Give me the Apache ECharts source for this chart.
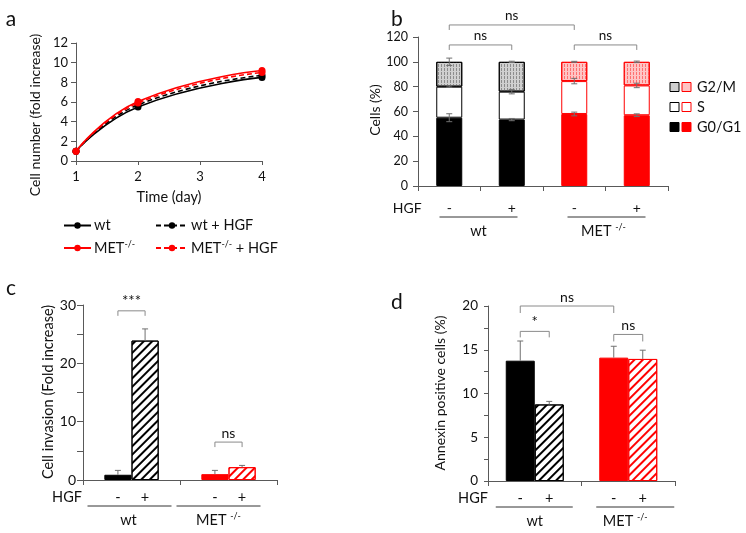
<!DOCTYPE html>
<html><head><meta charset="utf-8">
<script src="https://cdn.jsdelivr.net/npm/echarts@6/dist/echarts.min.js"></script>
<style>html,body{margin:0;padding:0;background:#fff}#c{width:746px;height:533px}</style>
</head><body><div id="c"></div>
<script>
// ---------- Panel a: cell number (fold increase) ----------
const daysA = [1, 2, 4];
const wtA = [1, 5.5, 8.5];
const wtHgfA = [1, 5.7, 8.7];
const metA = [1, 6.05, 9.2];
const metHgfA = [1, 5.9, 9.0];
const yTicksA = [0, 2, 4, 6, 8, 10, 12];

// ---------- Panel b: cell cycle (%) ----------
const catsB = ['wt-', 'wt+', 'MET-', 'MET+'];
const g0g1B = [55, 53.5, 58, 57];
const sB = [25, 22.5, 26.5, 24];
const g2mB = [20, 24, 15.5, 19];
const g0g1ErrB = [3.2, 0.9, 1.5, 1.1];
const sErrB = [0.6, 1.8, 2.2, 1.8];
const g2mErrB = [3.0, 0.5, 0.4, 0.6];
const hgfB = ['-', '+', '-', '+'];

// ---------- Panel c: invasion ----------
const groupsCD = ['wt', 'MET -/-'];
const invNo = [0.9, 1.0];
const invNoErr = [0.75, 0.65];
const invHgf = [23.9, 2.2];
const invHgfErr = [2.0, 0.3];

// ---------- Panel d: annexin ----------
const annNo = [13.75, 14.1];
const annNoErr = [2.25, 1.3];
const annHgf = [8.75, 13.95];
const annHgfErr = [0.35, 1.0];

const FONT = 'Lato';
const AX = '#595959';
const TXT = '#111';
const ERR = '#707070';
const BR = '#8a8a8a';
const RED = '#ff0000';

const chart = echarts.init(document.getElementById('c'), null, {renderer: 'canvas'});

const hatch = (c) => ({symbol: 'rect', symbolSize: 1, dashArrayX: [1, 0], dashArrayY: [1.6, 3.4], rotation: -Math.PI / 4, color: c});
const stip = (c) => ({symbol: 'rect', symbolSize: 1, dashArrayX: [1, 1.5], dashArrayY: [3, 1], rotation: 0, color: c});

function yAx(gi, max, interval, fs, margin, tick, labelEvery) {
  return {
    gridIndex: gi, type: 'value', min: 0, max: max, interval: interval,
    axisLine: {show: true, lineStyle: {color: AX, width: 1}},
    axisTick: {show: true, length: tick, lineStyle: {color: AX}},
    splitLine: {show: false},
    axisLabel: {color: TXT, fontSize: fs, fontFamily: FONT, margin: margin,
      formatter: (v) => (labelEvery ? (Math.abs(v / labelEvery - Math.round(v / labelEvery)) < 1e-6 ? String(v) : '') : String(v))}
  };
}
function catAx(gi, data) {
  return {
    gridIndex: gi, type: 'category', data: data,
    axisLine: {show: true, lineStyle: {color: AX, width: 1}},
    axisTick: {show: true, length: 5, lineStyle: {color: AX}},
    axisLabel: {show: false}, splitLine: {show: false}
  };
}

function errSeries(xi, data, barPct, upOnly) {
  return {
    type: 'custom', xAxisIndex: xi, yAxisIndex: xi, z: 10, silent: true,
    data: data,
    renderItem: (params, api) => {
      const x = api.value(0), y = api.value(1), e = api.value(2), side = api.value(3);
      const band = api.size([1, 0])[0];
      const off = side * band * barPct / 2;
      const t = api.coord([x, y + e]);
      const b = api.coord([x, upOnly ? y : y - e]);
      const cx = t[0] + off;
      const cap = 3;
      const st = {stroke: ERR, lineWidth: 1};
      const ch = [
        {type: 'line', shape: {x1: cx, y1: t[1], x2: cx, y2: b[1]}, style: st},
        {type: 'line', shape: {x1: cx - cap, y1: t[1], x2: cx + cap, y2: t[1]}, style: st}
      ];
      if (!upOnly) ch.push({type: 'line', shape: {x1: cx - cap, y1: b[1], x2: cx + cap, y2: b[1]}, style: st});
      return {type: 'group', children: ch};
    }
  };
}

// error data panel b: cumulative tops
const errB = [];
catsB.forEach((c, i) => {
  errB.push([i, g0g1B[i], g0g1ErrB[i], 0]);
  errB.push([i, g0g1B[i] + sB[i], sErrB[i], 0]);
  errB.push([i, g0g1B[i] + sB[i] + g2mB[i], g2mErrB[i], 0]);
});
const errC = [];
groupsCD.forEach((g, i) => { errC.push([i, invNo[i], invNoErr[i], -1]); errC.push([i, invHgf[i], invHgfErr[i], 1]); });
const errD = [];
groupsCD.forEach((g, i) => { errD.push([i, annNo[i], annNoErr[i], -1]); errD.push([i, annHgf[i], annHgfErr[i], 1]); });

const isWt = (i) => i < 2;
const colB = (i) => isWt(i) ? '#000' : RED;

const lineSeries = (name, ys, color, dashed, z) => ({
  name: name, type: 'line', xAxisIndex: 0, yAxisIndex: 0, smooth: true, z: z,
  data: daysA.map((d, i) => [d, ys[i]]),
  symbol: 'circle', symbolSize: 7,
  itemStyle: {color: color},
  lineStyle: {color: color, width: 1.6, type: dashed ? [5, 3] : 'solid'}
});

const BW_C = 0.28, BW_D = 0.31;

const option = {
  animation: false,
  textStyle: {fontFamily: FONT},
  grid: [
    {left: 76, top: 43, width: 186, height: 118},
    {left: 418, top: 37, width: 250, height: 149},
    {left: 83, top: 305, width: 194, height: 175},
    {left: 488, top: 306, width: 187, height: 175}
  ],
  legend: [
    {left: 58, top: 213, orient: 'vertical', itemWidth: 27, itemHeight: 8, itemGap: 7,
      data: ['wt', 'MET-/-'],
      formatter: (n) => n.replace('-/-', '{sup|-/-}'),
      textStyle: {fontSize: 14.5, color: TXT, fontFamily: FONT, padding: [0, 0, 0, -2],
        rich: {sup: {fontSize: 9, fontFamily: FONT, color: TXT, verticalAlign: 'bottom', padding: [0, 0, 7, 0]}}}},
    {left: 150, top: 213, orient: 'vertical', itemWidth: 32, itemHeight: 8, itemGap: 7,
      data: ['wt + HGF', 'MET-/- + HGF'],
      formatter: (n) => n.replace('-/-', '{sup|-/-}'),
      textStyle: {fontSize: 14.5, color: TXT, fontFamily: FONT, padding: [0, 0, 0, -2],
        rich: {sup: {fontSize: 9, fontFamily: FONT, color: TXT, verticalAlign: 'bottom', padding: [0, 0, 7, 0]}}}}
  ],
  xAxis: [
    {gridIndex: 0, type: 'value', min: 1, max: 4, interval: 1,
      axisLine: {show: true, lineStyle: {color: AX}}, axisTick: {show: true, length: 4, lineStyle: {color: AX}},
      splitLine: {show: false}, axisLabel: {color: TXT, fontSize: 13, fontFamily: FONT, margin: 9},
      name: 'Time (day)', nameLocation: 'middle', nameGap: 29,
      nameTextStyle: {fontSize: 14.5, color: TXT, fontFamily: FONT}},
    catAx(1, catsB),
    catAx(2, groupsCD),
    catAx(3, groupsCD)
  ],
  yAxis: [
    yAx(0, 12, 2, 13, 8, 5, 0),
    yAx(1, 120, 20, 12.5, 10, 5, 0),
    yAx(2, 30, 5, 14, 7, 6, 10),
    yAx(3, 20, 2.5, 13.5, 10, 4, 5)
  ],
  series: [
    lineSeries('wt', wtA, '#000', false, 2),
    lineSeries('wt + HGF', wtHgfA, '#000', true, 3),
    lineSeries('MET-/- + HGF', metHgfA, RED, true, 4),
    lineSeries('MET-/-', metA, RED, false, 5),

    {name: 'G0/G1', type: 'bar', stack: 'b', xAxisIndex: 1, yAxisIndex: 1, barWidth: '41.6%',
      data: g0g1B.map((v, i) => ({value: v, itemStyle: {color: colB(i), borderColor: colB(i), borderWidth: 1}}))},
    {name: 'S', type: 'bar', stack: 'b', xAxisIndex: 1, yAxisIndex: 1, barWidth: '41.6%',
      data: sB.map((v, i) => ({value: v, itemStyle: {color: '#fff', borderColor: colB(i), borderWidth: 1}}))},
    {name: 'G2/M', type: 'bar', stack: 'b', xAxisIndex: 1, yAxisIndex: 1, barWidth: '41.6%',
      data: g2mB.map((v, i) => ({value: v, itemStyle: {color: isWt(i) ? '#cfcfcf' : '#ffc4c4', borderColor: colB(i), borderWidth: 1,
        decal: stip(isWt(i) ? '#8c8c8c' : '#ff7070')}}))},
    errSeries(1, errB, 0, false),

    {name: 'noHGF_c', type: 'bar', xAxisIndex: 2, yAxisIndex: 2, barWidth: (BW_C * 100) + '%', barGap: '0%',
      data: invNo.map((v, i) => ({value: v, itemStyle: {color: i === 0 ? '#000' : RED, borderColor: i === 0 ? '#000' : RED, borderWidth: 1}}))},
    {name: 'HGF_c', type: 'bar', xAxisIndex: 2, yAxisIndex: 2, barWidth: (BW_C * 100) + '%', barGap: '0%',
      data: invHgf.map((v, i) => ({value: v, itemStyle: {color: '#fff', borderColor: i === 0 ? '#000' : RED, borderWidth: 1, decal: hatch(i === 0 ? '#000' : RED)}}))},
    errSeries(2, errC, BW_C, true),

    {name: 'noHGF_d', type: 'bar', xAxisIndex: 3, yAxisIndex: 3, barWidth: (BW_D * 100) + '%', barGap: '0%',
      data: annNo.map((v, i) => ({value: v, itemStyle: {color: i === 0 ? '#000' : RED, borderColor: i === 0 ? '#000' : RED, borderWidth: 1}}))},
    {name: 'HGF_d', type: 'bar', xAxisIndex: 3, yAxisIndex: 3, barWidth: (BW_D * 100) + '%', barGap: '0%',
      data: annHgf.map((v, i) => ({value: v, itemStyle: {color: '#fff', borderColor: i === 0 ? '#000' : RED, borderWidth: 1, decal: hatch(i === 0 ? '#000' : RED)}}))},
    errSeries(3, errD, BW_D, true)
  ]
};
chart.setOption(option);

// ---------- annotations (positions derived from the axes) ----------
const px = (g, x, y) => chart.convertToPixel({gridIndex: g}, [x, y]);
const G = [];
const txt = (x, y, s, fs, opts) => G.push(Object.assign({type: 'text', x: x, y: y, silent: true,
  style: {text: s, fontSize: fs, fontFamily: FONT, fill: TXT, align: 'center', verticalAlign: 'middle',
    rich: {sup: {fontSize: fs * 0.62, fontFamily: FONT, fill: TXT, verticalAlign: 'bottom', padding: [0, 0, fs * 0.5, 0]}}}}, opts || {}));
const line = (x1, y1, x2, y2, c) => G.push({type: 'line', silent: true, shape: {x1, y1, x2, y2}, style: {stroke: c || '#333', lineWidth: 1}});
const bracket = (x1, x2, y, leg, label, fs) => {
  G.push({type: 'polyline', silent: true, shape: {points: [[x1, y + leg], [x1, y], [x2, y], [x2, y + leg]]}, style: {stroke: BR, lineWidth: 1, fill: null}});
  txt((x1 + x2) / 2, y - 2, label, fs, {style: {text: label, fontSize: fs, fontFamily: FONT, fill: TXT, align: 'center', verticalAlign: 'bottom'}});
};

// panel letters
txt(11, 19, 'a', 21);
txt(397, 19, 'b', 21);
txt(11, 288, 'c', 21);
txt(397, 302, 'd', 21);

// y titles
txt(35, 115, 'Cell number (fold increase)', 14, {rotation: Math.PI / 2});
txt(375, 110, 'Cells (%)', 14, {rotation: Math.PI / 2});
txt(48, 392, 'Cell invasion (Fold increase)', 14.5, {rotation: Math.PI / 2});
txt(440, 393, 'Annexin positive cells (%)', 14, {rotation: Math.PI / 2});

// panel b brackets + labels
const bx = (i) => px(1, i, 0)[0];
const by = (v) => px(1, 0, v)[1];
bracket(bx(0), bx(2), by(129.7), 5, 'ns', 13.5);
bracket(bx(0), bx(1), by(113.6), 5, 'ns', 13.5);
bracket(bx(2), bx(3), by(113.6), 5, 'ns', 13.5);
const rowB = by(0) + 22;
txt(bx(0) - 42, rowB, 'HGF', 14);
hgfB.forEach((h, i) => txt(bx(i), rowB, h, 14));
const gB0 = (bx(0) + bx(1)) / 2, gB1 = (bx(2) + bx(3)) / 2;
line(gB0 - 41, rowB + 9, gB0 + 37, rowB + 9);
line(gB1 - 38, rowB + 9, gB1 + 40, rowB + 9);
txt(gB0 - 2, rowB + 23, 'wt', 14.5);
txt(gB1 - 2, rowB + 23, 'MET {sup|-/-}', 14.5);

// legend b (swatches)
const legB = [['G2/M', 87], ['S', 107], ['G0/G1', 127]];
legB.forEach(([n, y], k) => {
  const wfill = k === 0 ? '#cfcfcf' : (k === 1 ? '#fff' : '#000');
  const rfill = k === 0 ? '#ffc4c4' : (k === 1 ? '#fff' : RED);
  G.push({type: 'rect', silent: true, shape: {x: 670, y: y - 4.5, width: 9, height: 9}, style: {fill: wfill, stroke: '#000', lineWidth: 1}});
  G.push({type: 'rect', silent: true, shape: {x: 682, y: y - 4.5, width: 9, height: 9}, style: {fill: rfill, stroke: RED, lineWidth: 1}});
  txt(697, y, n, 14.5, {style: {text: n, fontSize: 14.5, fontFamily: FONT, fill: TXT, align: 'left', verticalAlign: 'middle'}});
});

// panel c/d
function cdAnn(g, bw, brs, hgfX, lines) {
  const c0 = px(g, 0, 0), c1 = px(g, 1, 0);
  const band = c1[0] - c0[0];
  const bc = (i, s) => px(g, i, 0)[0] + s * band * bw / 2;
  const yv = (v) => px(g, 0, v)[1];
  brs.forEach(b => bracket(bc(b[0], b[1]), bc(b[2], b[3]), yv(b[4]), b[5], b[6], b[7]));
  const row = yv(0) + 17;
  txt(hgfX, row, 'HGF', 14.5);
  [0, 1].forEach(i => { txt(bc(i, -1), row, '-', 14.5); txt(bc(i, 1), row, '+', 14.5); });
  lines.forEach((l, i) => {
    const cx = px(g, i, 0)[0];
    line(cx + l[0], row + 9, cx + l[1], row + 9);
    txt(cx + l[2], row + 23, i === 0 ? 'wt' : 'MET {sup|-/-}', 14.5);
  });
}
cdAnn(2, BW_C, [[0, -1, 0, 1, 29.0, 5, '***', 15], [1, -1, 1, 1, 6.5, 5, 'ns', 14]], 67,
  [[-44, 40, -3], [-52, 32, -10]]);
cdAnn(3, BW_D, [[0, -1, 1, -1, 20.0, 7, 'ns', 14], [0, -1, 0, 1, 17.1, 6, '*', 15], [1, -1, 1, 1, 16.75, 7, 'ns', 14]], 473,
  [[-39, 38, 0], [-32, 46, -3]]);

chart.setOption({graphic: G});
</script></body></html>
